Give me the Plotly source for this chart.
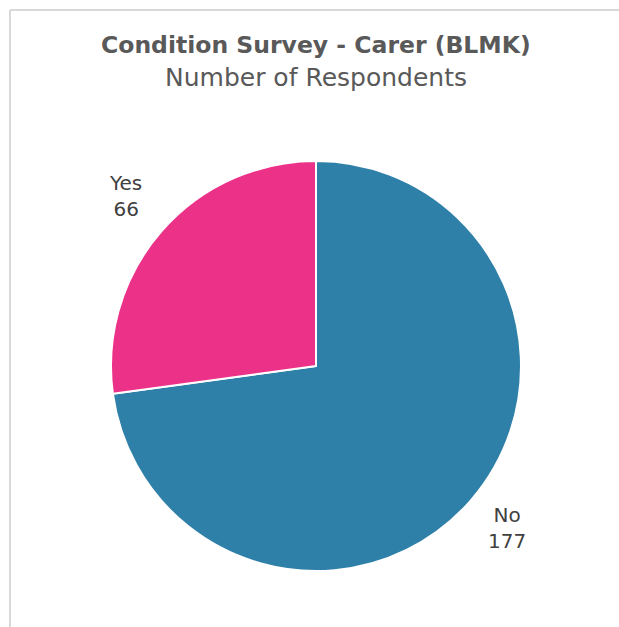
import math
import plotly.graph_objects as go

W, H = 619, 627

labels = ["No", "Yes"]
values = [177, 66]
colors = ["#2F80A8", "#EC3189"]

title = "Condition Survey - Carer (BLMK)"
subtitle = "Number of Respondents"

# pie box in page pixels
CX, CY, R = 316, 366, 205
LABEL_R = 1.235


def px(x):
    return x / W


def py(y):
    return 1 - y / H


fig = go.Figure()

fig.add_trace(
    go.Pie(
        labels=labels,
        values=values,
        sort=False,
        direction="clockwise",
        rotation=0,
        marker=dict(colors=colors, line=dict(color="white", width=2)),
        textinfo="none",
        hoverinfo="label+value",
        showlegend=False,
        domain=dict(x=[px(CX - R), px(CX + R)], y=[py(CY + R), py(CY - R)]),
    )
)

# data labels outside each slice, at the slice's mid angle (Excel style)
annotations = []
total = sum(values)
cum = 0
for lab, val in zip(labels, values):
    mid = (cum + val / 2) / total * 2 * math.pi
    cum += val
    lx = CX + LABEL_R * R * math.sin(mid)
    ly = CY - LABEL_R * R * math.cos(mid)
    annotations.append(dict(
        text=f"{lab}<br>{val}",
        x=px(lx), y=py(ly), xref="paper", yref="paper", yshift=4,
        showarrow=False, xanchor="center", yanchor="middle",
        font=dict(family="DejaVu Sans", size=20, color="#404040"),
    ))

annotations += [
    dict(
        text="<b>" + title + "</b>",
        x=px(316), y=py(45), xref="paper", yref="paper",
        showarrow=False, xanchor="center", yanchor="middle",
        font=dict(family="DejaVu Sans", size=23.5, color="#595959"),
    ),
    dict(
        text=subtitle,
        x=px(316), y=py(78), xref="paper", yref="paper",
        showarrow=False, xanchor="center", yanchor="middle",
        font=dict(family="DejaVu Sans", size=25, color="#595959"),
    ),
]

fig.update_layout(
    width=W,
    height=H,
    margin=dict(l=0, r=0, t=0, b=0),
    paper_bgcolor="white",
    plot_bgcolor="white",
    annotations=annotations,
    shapes=[
        dict(type="line", xref="paper", yref="paper",
             x0=px(10), x1=1, y0=py(10), y1=py(10),
             line=dict(color="#D9D9D9", width=2)),
        dict(type="line", xref="paper", yref="paper",
             x0=px(10), x1=px(10), y0=0, y1=py(10),
             line=dict(color="#D9D9D9", width=2)),
    ],
)

# drop the default 8px body margin so the figure fills the window exactly
fig.write_html(
    "out.html",
    config={"displayModeBar": False},
    post_script="document.body.style.margin='0';document.body.style.overflow='hidden';",
)
